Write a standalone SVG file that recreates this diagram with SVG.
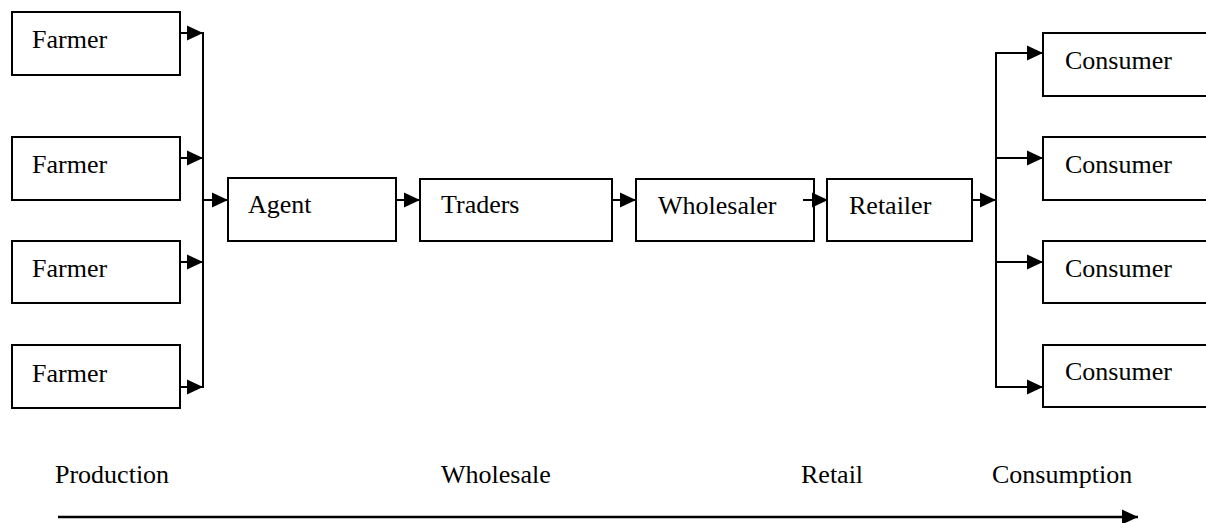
<svg xmlns="http://www.w3.org/2000/svg" width="1206" height="523" viewBox="0 0 1206 523">
<style>
.box{fill:#fff;stroke:#000;stroke-width:2}
.t{font-family:"Liberation Serif","Times New Roman",serif;font-size:26px;fill:#000}
.c{fill:none;stroke:#000;stroke-width:2}
.a{fill:none;stroke:#000;stroke-width:2;marker-end:url(#ah)}
</style>
<defs>
<marker id="ah" markerUnits="userSpaceOnUse" markerWidth="16" markerHeight="16" refX="16" refY="8" orient="auto">
<path d="M0,0.5 L16,8 L0,15.5 z" fill="#000"/>
</marker>
</defs>
<rect width="1206" height="523" fill="#fff"/>
<g id="farmer1"><rect class="box" x="12" y="12" width="168" height="63"/><text class="t" x="32" y="48">Farmer</text></g>
<g id="farmer2"><rect class="box" x="12" y="137" width="168" height="63"/><text class="t" x="32" y="173">Farmer</text></g>
<g id="farmer3"><rect class="box" x="12" y="241" width="168" height="62"/><text class="t" x="32" y="277">Farmer</text></g>
<g id="farmer4"><rect class="box" x="12" y="345" width="168" height="63"/><text class="t" x="32" y="382">Farmer</text></g>
<g id="agent"><rect class="box" x="228" y="178" width="168" height="63"/><text class="t" x="248" y="213">Agent</text></g>
<g id="traders"><rect class="box" x="420" y="179" width="192" height="62"/><text class="t" x="441" y="213">Traders</text></g>
<g id="wholesaler"><rect class="box" x="636" y="179" width="178" height="62"/><text class="t" x="658" y="214">Wholesaler</text></g>
<g id="retailer"><rect class="box" x="827" y="179" width="145" height="62"/><text class="t" x="849" y="214">Retailer</text></g>
<g id="consumer1"><rect class="box" x="1043" y="33" width="170" height="63"/><text class="t" x="1065" y="69">Consumer</text></g>
<g id="consumer2"><rect class="box" x="1043" y="137" width="170" height="63"/><text class="t" x="1065" y="173">Consumer</text></g>
<g id="consumer3"><rect class="box" x="1043" y="241" width="170" height="62"/><text class="t" x="1065" y="277">Consumer</text></g>
<g id="consumer4"><rect class="box" x="1043" y="345" width="170" height="62"/><text class="t" x="1065" y="380">Consumer</text></g>
<g id="connectors">
<line class="a" x1="180" y1="33" x2="203" y2="33"/>
<line class="a" x1="180" y1="158" x2="203" y2="158"/>
<line class="a" x1="180" y1="262" x2="203" y2="262"/>
<line class="a" x1="180" y1="387" x2="203" y2="387"/>
<line class="c" x1="203" y1="32" x2="203" y2="388"/>
<line class="a" x1="203" y1="200" x2="228" y2="200"/>
<line class="a" x1="396" y1="200" x2="420" y2="200"/>
<line class="a" x1="612" y1="200" x2="636" y2="200"/>
<line class="a" x1="803" y1="200" x2="828" y2="200"/>
<line class="a" x1="972" y1="200" x2="996" y2="200"/>
<line class="c" x1="996" y1="52" x2="996" y2="388"/>
<line class="a" x1="995" y1="53" x2="1043" y2="53"/>
<line class="a" x1="996" y1="158" x2="1043" y2="158"/>
<line class="a" x1="996" y1="262" x2="1043" y2="262"/>
<line class="a" x1="995" y1="387" x2="1043" y2="387"/>
<line class="a" x1="58" y1="517" x2="1138" y2="517" style="stroke-width:2.5"/>
</g>
<g id="stages">
<text class="t" x="55" y="483">Production</text>
<text class="t" x="441" y="483">Wholesale</text>
<text class="t" x="801" y="483">Retail</text>
<text class="t" x="992" y="483">Consumption</text>
</g>
</svg>
